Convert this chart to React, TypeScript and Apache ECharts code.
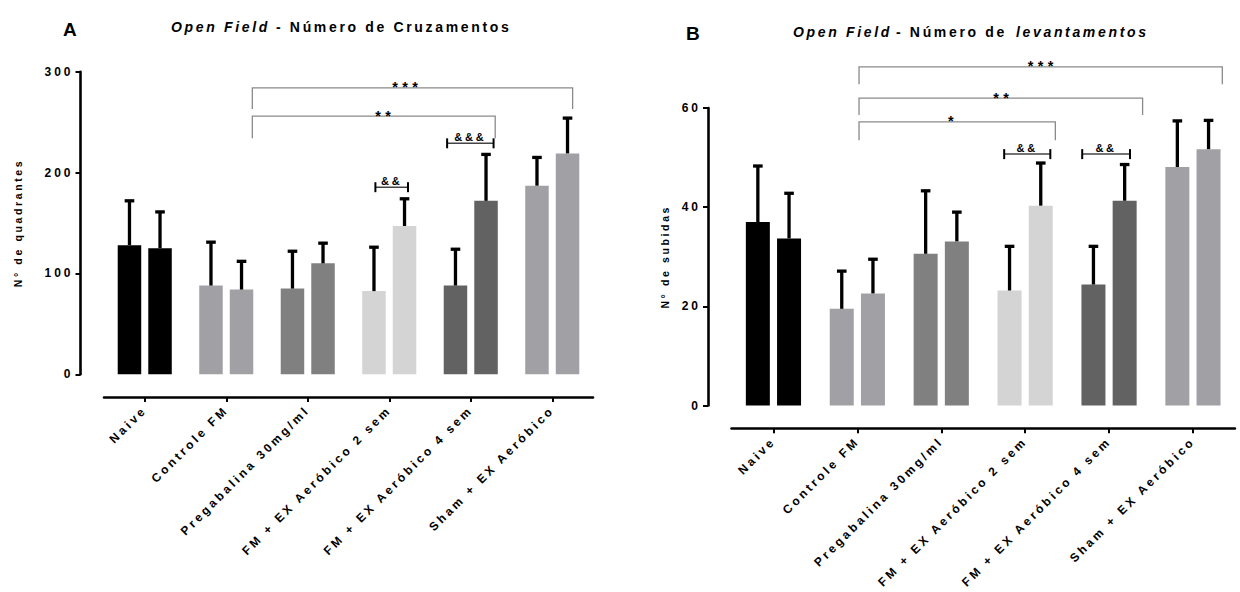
import React, { useEffect, useRef } from 'react';
import * as echarts from 'echarts';

const FONT = '"Liberation Sans", Arial, sans-serif';

const categories = [
  'Naive',
  'Controle FM',
  'Pregabalina 30mg/ml',
  'FM + EX Aeróbico 2 sem',
  'FM + EX Aeróbico 4 sem',
  'Sham + EX Aeróbico',
];

const groupColors = ['#000000', '#a1a0a5', '#808080', '#d4d4d4', '#626262', '#a1a0a5'];

// Panel A - Número de Cruzamentos (N° de quadrantes)
const crossingsFirst = [128, 88, 85, 82.5, 88, 187];
const crossingsFirstSd = [44, 43, 37, 43.5, 36, 28];
const crossingsSecond = [125, 84, 110, 147, 172, 219];
const crossingsSecondSd = [36, 28, 20, 27, 46, 35];
const crossingsTicks = { min: 0, max: 300, interval: 100 };

// Panel B - Número de levantamentos (N° de subidas)
const rearingsFirst = [37.0, 19.5, 30.6, 23.2, 24.4, 48.1];
const rearingsFirstSd = [11.3, 7.6, 12.7, 8.9, 7.7, 9.3];
const rearingsSecond = [33.7, 22.6, 33.1, 40.3, 41.3, 51.7];
const rearingsSecondSd = [9.1, 6.9, 5.9, 8.6, 7.3, 5.8];
const rearingsTicks = { min: 0, max: 60, interval: 20 };

// significance annotations (x in category units, y in axis values)
const bracketsA = [
  { kind: 'sig', from: 1.32, to: 5.25, y: 284, drop: 263, label: '***', labelAt: 3.22 },
  { kind: 'sig', from: 1.32, to: 4.3, y: 256, drop: 234, label: '**', labelAt: 2.95 },
  { kind: 'amp', from: 2.83, to: 3.23, y: 185.5, label: '&&' },
  { kind: 'amp', from: 3.71, to: 4.28, y: 229, label: '&&&' },
];
const bracketsB = [
  { kind: 'sig', from: 1.02, to: 5.35, y: 68.3, drop: 64.8, label: '***', labelAt: 3.21 },
  { kind: 'sig', from: 1.02, to: 4.4, y: 62.0, drop: 58.6, label: '**', labelAt: 2.74 },
  { kind: 'sig', from: 1.02, to: 3.36, y: 57.2, drop: 53.5, label: '*', labelAt: 2.14 },
  { kind: 'amp', from: 2.75, to: 3.3, y: 50.7, label: '&&' },
  { kind: 'amp', from: 3.68, to: 4.25, y: 50.7, label: '&&' },
];

const BAR_W = [23.5, 24];
const GAP_RATIO = 0.3;

function barSeries(axis: number, values: number[]) {
  return {
    type: 'bar',
    xAxisIndex: axis,
    yAxisIndex: axis,
    barWidth: BAR_W[axis],
    barGap: GAP_RATIO * 100 + '%',
    data: values.map((v, i) => ({ value: v, itemStyle: { color: groupColors[i] } })),
  };
}

function errorSeries(axis: number, values: number[], sds: number[], side: number) {
  const off = side * (BAR_W[axis] * (1 + GAP_RATIO)) / 2;
  return {
    type: 'custom',
    xAxisIndex: axis,
    yAxisIndex: axis,
    clip: false,
    silent: true,
    z: 4,
    data: values.map((v, i) => [i, v, v + sds[i]]),
    encode: { x: 0, y: [1, 2] },
    renderItem: (params: any, api: any) => {
      const base = api.coord([api.value(0), api.value(1)]);
      const top = api.coord([api.value(0), api.value(2)]);
      const x = base[0] + off;
      const st = { stroke: '#000', lineWidth: 3.3 };
      return {
        type: 'group',
        children: [
          { type: 'line', shape: { x1: x, y1: base[1], x2: x, y2: top[1] }, style: st },
          { type: 'line', shape: { x1: x - 4.8, y1: top[1], x2: x + 4.8, y2: top[1] }, style: st },
        ],
      };
    },
  };
}

function bracketSeries(axis: number, list: any[]) {
  return {
    type: 'custom',
    xAxisIndex: axis,
    yAxisIndex: axis,
    clip: false,
    silent: true,
    z: 6,
    data: list.map((b, i) => [i, b.y]),
    renderItem: (params: any, api: any) => {
      const b = list[params.dataIndex];
      const bw = api.size([1, 0])[0];
      const px = (xv: number, yv: number) => {
        const i = Math.round(xv);
        const p = api.coord([i, yv]);
        return [p[0] + (xv - i) * bw, p[1]];
      };
      const children: any[] = [];
      if (b.kind === 'sig') {
        const a = px(b.from, b.drop);
        const t1 = px(b.from, b.y);
        const t2 = px(b.to, b.y);
        const d = px(b.to, b.drop);
        children.push({
          type: 'polyline',
          shape: { points: [a, t1, t2, d] },
          style: { stroke: '#8a8a8a', lineWidth: 1.3, fill: 'none' },
        });
        const lp = px(b.labelAt, b.y);
        children.push({
          type: 'text',
          x: lp[0],
          y: lp[1] - 0.5,
          style: {
            text: b.label,
            fill: '#000',
            fontSize: 14.5,
            fontWeight: 'bold',
            fontFamily: FONT,
            align: 'center',
            verticalAlign: 'middle',
          },
        });
      } else {
        const l = px(b.from, b.y);
        const r = px(b.to, b.y);
        children.push({
          type: 'line',
          shape: { x1: l[0], y1: l[1], x2: r[0], y2: r[1] },
          style: { stroke: '#444', lineWidth: 1.5 },
        });
        children.push({
          type: 'line',
          shape: { x1: l[0], y1: l[1] - 5, x2: l[0], y2: l[1] + 5 },
          style: { stroke: '#000', lineWidth: 2 },
        });
        children.push({
          type: 'line',
          shape: { x1: r[0], y1: r[1] - 5, x2: r[0], y2: r[1] + 5 },
          style: { stroke: '#000', lineWidth: 2 },
        });
        children.push({
          type: 'text',
          x: (l[0] + r[0]) / 2,
          y: l[1] - 6,
          style: {
            text: b.label,
            fill: '#000',
            fontSize: 11,
            fontWeight: 'bold',
            fontFamily: FONT,
            align: 'center',
            verticalAlign: 'middle',
          },
        });
      }
      return { type: 'group', children };
    },
  };
}

function xAxisCfg(g: number, offset: number) {
  return {
    type: 'category',
    gridIndex: g,
    data: categories,
    offset,
    axisLine: { show: true, onZero: false, lineStyle: { color: '#000', width: 2.6 } },
    axisTick: { show: true, alignWithLabel: true, length: 5, lineStyle: { color: '#000', width: 2 } },
    axisLabel: {
      rotate: 45,
      interval: 0,
      margin: 11,
      fontSize: 12,
      fontWeight: 'bold',
      color: '#000',
      fontFamily: FONT,
    },
    splitLine: { show: false },
  };
}

function yAxisCfg(g: number, ticks: any, name: string, nameGap: number) {
  return {
    type: 'value',
    gridIndex: g,
    min: ticks.min,
    max: ticks.max,
    interval: ticks.interval,
    offset: 23.5,
    axisLine: { show: true, lineStyle: { color: '#000', width: 2.6 } },
    axisTick: { show: true, length: 5, lineStyle: { color: '#000', width: 2 } },
    splitLine: { show: false },
    axisLabel: { fontSize: 12, fontWeight: 'bold', color: '#000', margin: 7, fontFamily: FONT },
    name,
    nameLocation: 'middle',
    nameGap,
    nameTextStyle: { fontSize: 10.5, fontWeight: 'bold', color: '#000', fontFamily: FONT },
  };
}

function textEl(x: number, y: number, text: string, size: number, italic: boolean) {
  return {
    type: 'text',
    x,
    y,
    style: {
      text,
      fill: '#000',
      fontSize: size,
      fontWeight: 'bold',
      fontStyle: italic ? 'italic' : 'normal',
      fontFamily: FONT,
      align: 'left',
      verticalAlign: 'middle',
    },
  };
}

export default function App() {
  const ref = useRef<HTMLDivElement>(null);
  useEffect(() => {
    const chart = echarts.init(ref.current!, null, { renderer: 'svg' });
    const option: any = {
      animation: false,
      backgroundColor: '#fff',
      grid: [
        { left: 104, top: 71.7, width: 489, height: 302.6 },
        { left: 731.5, top: 108, width: 503.4, height: 297.5 },
      ],
      xAxis: [xAxisCfg(0, 22.7), xAxisCfg(1, 22.8)],
      yAxis: [
        yAxisCfg(0, crossingsTicks, 'N° de quadrantes', 57),
        yAxisCfg(1, rearingsTicks, 'N° de subidas', 38),
      ],
      graphic: [
        textEl(63, 29, 'A', 19, false),
        textEl(171, 27, 'Open Field', 14, true),
        textEl(276, 27, '- Número de Cruzamentos', 14, false),
        textEl(686, 33, 'B', 19, false),
        textEl(793, 32, 'Open Field', 14, true),
        textEl(896, 32, '- Número de', 14, false),
        textEl(1016, 32, 'levantamentos', 14, true),
      ],
      series: [
        barSeries(0, crossingsFirst),
        barSeries(0, crossingsSecond),
        errorSeries(0, crossingsFirst, crossingsFirstSd, -1),
        errorSeries(0, crossingsSecond, crossingsSecondSd, 1),
        bracketSeries(0, bracketsA),
        barSeries(1, rearingsFirst),
        barSeries(1, rearingsSecond),
        errorSeries(1, rearingsFirst, rearingsFirstSd, -1),
        errorSeries(1, rearingsSecond, rearingsSecondSd, 1),
        bracketSeries(1, bracketsB),
      ],
    };
    chart.setOption(option);
    return () => chart.dispose();
  }, []);
  return (
    <>
      <style>{`.oc-chart text { letter-spacing: 0.25em; } .oc-chart text[style*="14px"] { letter-spacing: 0.19em; } .oc-chart text[style*="14.5px"] { letter-spacing: 0.3em; }`}</style>
      <div
        ref={ref}
        className="oc-chart"
        style={{ position: 'absolute', left: 0, top: 0, width: 1240, height: 592, background: '#fff' }}
      />
    </>
  );
}
